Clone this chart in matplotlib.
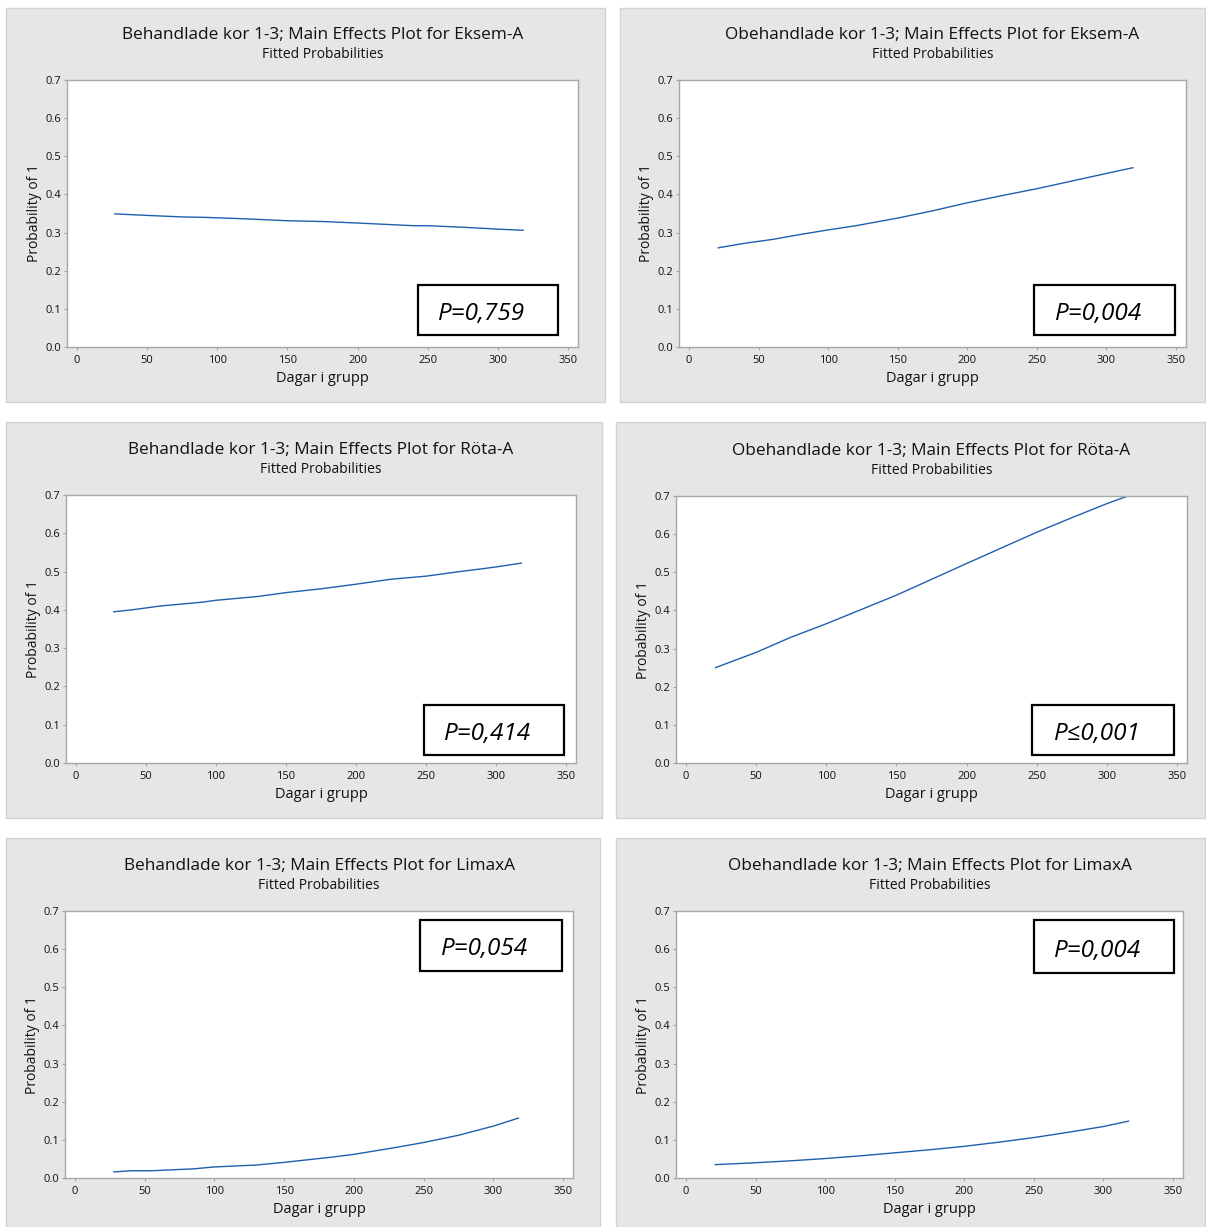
import matplotlib
matplotlib.use("Agg")
import matplotlib.pyplot as plt
from matplotlib.patches import Rectangle

plt.rcParams['font.family'] = ['Open Sans', 'DejaVu Sans']

W, H = 1206, 1227

titles = [
    "Behandlade kor 1-3; Main Effects Plot for Eksem-A",
    "Obehandlade kor 1-3; Main Effects Plot for Eksem-A",
    "Behandlade kor 1-3; Main Effects Plot for Röta-A",
    "Obehandlade kor 1-3; Main Effects Plot for Röta-A",
    "Behandlade kor 1-3; Main Effects Plot for LimaxA",
    "Obehandlade kor 1-3; Main Effects Plot for LimaxA",
]
p_labels = ["P=0,759", "P=0,004", "P=0,414", "P≤0,001", "P=0,054", "P=0,004"]

# fitted probabilities
days_1 = [27, 50, 75, 90, 120, 150, 175, 200, 240, 250, 275, 300, 318]
prob_1 = [0.349, 0.345, 0.341, 0.340, 0.336, 0.331, 0.329, 0.325, 0.318, 0.318, 0.314, 0.309, 0.306]

days_2 = [21, 40, 60, 80, 100, 120, 150, 175, 200, 225, 250, 275, 300, 319]
prob_2 = [0.260, 0.272, 0.282, 0.295, 0.307, 0.318, 0.338, 0.357, 0.378, 0.397, 0.415, 0.435, 0.455, 0.470]

days_3 = [27, 40, 60, 90, 100, 130, 150, 175, 200, 225, 250, 270, 300, 318]
prob_3 = [0.395, 0.400, 0.410, 0.420, 0.425, 0.435, 0.445, 0.455, 0.467, 0.480, 0.488, 0.498, 0.512, 0.522]

days_4 = [21, 50, 75, 100, 110, 150, 200, 250, 275, 300, 315]
prob_4 = [0.250, 0.290, 0.330, 0.365, 0.380, 0.440, 0.523, 0.605, 0.643, 0.680, 0.700]

days_5 = [28, 40, 55, 85, 100, 130, 150, 185, 200, 230, 250, 275, 300, 318]
prob_5 = [0.016, 0.019, 0.019, 0.024, 0.029, 0.034, 0.041, 0.055, 0.062, 0.080, 0.093, 0.112, 0.136, 0.157]

days_6 = [21, 50, 75, 100, 125, 150, 175, 200, 225, 250, 275, 300, 318]
prob_6 = [0.035, 0.040, 0.045, 0.051, 0.058, 0.066, 0.074, 0.083, 0.094, 0.106, 0.120, 0.135, 0.149]

days = [days_1, days_2, days_3, days_4, days_5, days_6]
probs = [prob_1, prob_2, prob_3, prob_4, prob_5, prob_6]

xticks = [0, 50, 100, 150, 200, 250, 300, 350]
yticks = [0.0, 0.1, 0.2, 0.3, 0.4, 0.5, 0.6, 0.7]

# layout in pixels: background box, x pixel of 0 and 350, y pixel of 0.0 and 0.7, P box
panels = [
    dict(bg=(6, 8, 605, 402), x0=77, x350=568, y0=347, y7=80, pbox=(418, 285, 558, 335)),
    dict(bg=(620, 8, 1205, 402), x0=689, x350=1176, y0=347, y7=80, pbox=(1034, 285, 1175, 335)),
    dict(bg=(6, 422, 602, 818), x0=76, x350=566, y0=763, y7=495, pbox=(424, 705, 564, 755)),
    dict(bg=(616, 422, 1205, 818), x0=686, x350=1177, y0=763, y7=496, pbox=(1032, 705, 1174, 755)),
    dict(bg=(6, 838, 600, 1227), x0=75, x350=563, y0=1178, y7=911, pbox=(420, 920, 562, 971)),
    dict(bg=(616, 838, 1205, 1227), x0=686, x350=1173, y0=1178, y7=911, pbox=(1034, 920, 1174, 973)),
]

fig = plt.figure(figsize=(W / 100, H / 100), dpi=100)
fig.patch.set_facecolor('white')


def fx(x):
    return x / W


def fy(y):
    return 1 - y / H


for i, p in enumerate(panels):
    bx0, by0, bx1, by1 = p['bg']
    fig.patches.append(Rectangle((fx(bx0), fy(by1)), fx(bx1 - bx0), (by1 - by0) / H,
                                 transform=fig.transFigure, facecolor='#e6e6e6',
                                 edgecolor='#d2d2d2', linewidth=1, zorder=-5))
    ppu = (p['x350'] - p['x0']) / 350
    left = p['x0'] - 7 * ppu
    right = p['x350'] + 7 * ppu
    ax = fig.add_axes([fx(left), fy(p['y0']), fx(right - left), (p['y0'] - p['y7']) / H])
    ax.set_zorder(1)
    ax.set_facecolor('white')
    ax.plot(days[i], probs[i], color='#1f5fae', linewidth=1.0)
    ax.set_xlim(-7, 357)
    ax.set_ylim(0, 0.7)
    ax.set_xticks(xticks)
    ax.set_yticks(yticks)
    ax.set_yticklabels([f"{v:.1f}" for v in yticks])
    ax.tick_params(labelsize=8, labelcolor='#111111', length=2.5, width=0.8,
                   pad=1.5, direction='out', color='#a0a0a0')
    ax.tick_params(axis='x', pad=3)
    for s in ax.spines.values():
        s.set_color('#a8a8a8')
        s.set_linewidth(1.0)
    ax.set_xlabel("Dagar i grupp", fontsize=10.5, color='#111111', labelpad=4)
    ax.set_ylabel("Probability of 1", fontsize=10, color='#111111', labelpad=3)

    cx = (left + right) / 2
    fig.text(fx(cx), fy(p['y7'] - 45), titles[i], ha='center', va='center',
             fontsize=12.4, color='#111111', zorder=3)
    fig.text(fx(cx), fy(p['y7'] - 25.5), "Fitted Probabilities", ha='center', va='center',
             fontsize=10, color='#111111', zorder=3)

    qx0, qy0, qx1, qy1 = p['pbox']
    fig.patches.append(Rectangle((fx(qx0), fy(qy1)), fx(qx1 - qx0), (qy1 - qy0) / H,
                                 transform=fig.transFigure, facecolor='white',
                                 edgecolor='black', linewidth=1.6, zorder=5))
    fig.text(fx((qx0 + qx1) / 2 - 6), fy((qy0 + qy1) / 2 + 4), p_labels[i],
             ha='center', va='center', fontsize=17.5, style='italic', color='black', zorder=6)

fig.savefig("out.png", dpi=100)
